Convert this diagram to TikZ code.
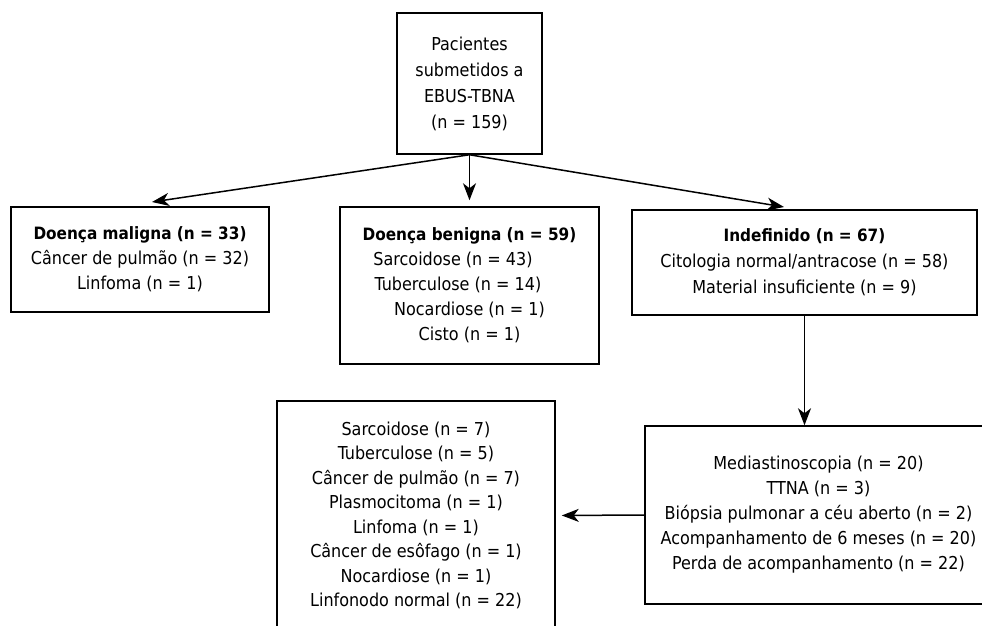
\documentclass[tikz,border=0pt]{standalone}
\usepackage{fontspec}
\setmainfont{DejaVu Sans Condensed}
\usetikzlibrary{arrows.meta}
\newcommand{\hdline}[1]{{\fontsize{17pt}{25pt}\selectfont\bfseries #1}}
\begin{document}
\begin{tikzpicture}[x=1pt,y=-1pt,
  box/.style={draw, line width=1.5pt, align=center, inner sep=0pt,
    font=\fontsize{17.8pt}{25pt}\selectfont},
  arr/.style={line width=1.5pt, -{Stealth[length=17pt,width=13pt,inset=5pt]}}]
\useasboundingbox (0,0) rectangle (982,625);
\clip (0,0) rectangle (982,625);
\fill[white] (0,0) rectangle (982,625);
\node[box, minimum width=145pt, minimum height=141pt,
  font=\fontsize{17.8pt}{26pt}\selectfont] (top) at (469.5,83.5)
  {Pacientes\\submetidos a\\EBUS-TBNA\\(n = 159)};
\node[box, minimum width=258pt, minimum height=105pt] (mal) at (140,259.5)
  {\hdline{Doença maligna (n = 33)}\\Câncer de pulmão (n = 32)\\Linfoma (n = 1)};
\node[box, minimum width=259pt, minimum height=157pt] (ben) at (469.5,285.5)
  {\hdline{Doença benigna (n = 59)}\\Sarcoidose (n = 43)\rule{33pt}{0pt}\\Tuberculose (n = 14)\rule{23pt}{0pt}\\Nocardiose (n = 1)\\Cisto (n = 1)};
\node[box, minimum width=345pt, minimum height=105pt,
  font=\fontsize{17.8pt}{26pt}\selectfont] (ind) at (804.5,262.5)
  {\hdline{Indefinido (n = 67)}\\Citologia normal/antracose (n = 58)\\Material insuficiente (n = 9)};
\node[box, minimum width=347pt, minimum height=178pt] (rest) at (818.5,515)
  {Mediastinoscopia (n = 20)\\TTNA (n = 3)\\Biópsia pulmonar a céu aberto (n = 2)\\Acompanhamento de 6 meses (n = 20)\\Perda de acompanhamento (n = 22)};
\node[box, minimum width=278pt, minimum height=229pt,
  font=\fontsize{17.8pt}{24.5pt}\selectfont] (fin) at (416,515.5)
  {Sarcoidose (n = 7)\\Tuberculose (n = 5)\\Câncer de pulmão (n = 7)\\Plasmocitoma (n = 1)\\Linfoma (n = 1)\\Câncer de esôfago (n = 1)\\Nocardiose (n = 1)\\Linfonodo normal (n = 22)};
\coordinate (tipL) at (152,202);
\coordinate (tipR) at (784,207);
\draw[arr] (top.south) -- (tipL);
\draw[arr, shorten >=6pt] (top.south) -- (ben.north);
\draw[arr] (top.south) -- (tipR);
\draw[arr] (ind.south) -- (ind.south |- rest.north);
\draw[arr, shorten >=6pt] (rest.west) -- (fin.east);
\end{tikzpicture}
\end{document}
